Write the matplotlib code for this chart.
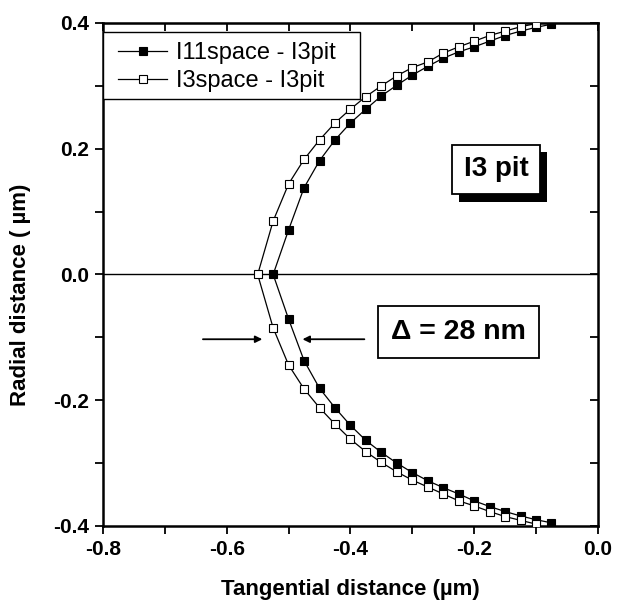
import numpy as np
import matplotlib
matplotlib.use('Agg')
import matplotlib.pyplot as plt
import matplotlib.patches as patches
import matplotlib.patheffects as pe

plt.rcParams['font.family'] = ['Liberation Sans', 'DejaVu Sans']

# I11space - I3pit (filled squares)
x_filled = [-0.525, -0.5, -0.475, -0.45, -0.425, -0.4, -0.375, -0.35, -0.325, -0.3,
            -0.275, -0.25, -0.225, -0.2, -0.175, -0.15, -0.125, -0.1, -0.075]
y_filled_up = [0, 0.071, 0.138, 0.181, 0.214, 0.241, 0.263, 0.284, 0.301, 0.317,
               0.331, 0.344, 0.354, 0.362, 0.371, 0.380, 0.387, 0.393, 0.398]
y_filled_dn = [0, -0.071, -0.137, -0.181, -0.212, -0.240, -0.264, -0.283, -0.300, -0.315,
               -0.328, -0.339, -0.349, -0.360, -0.369, -0.377, -0.384, -0.390, -0.395]

# I3space - I3pit (open squares)
x_open = [-0.55, -0.525, -0.5, -0.475, -0.45, -0.425, -0.4, -0.375, -0.35, -0.325,
          -0.3, -0.275, -0.25, -0.225, -0.2, -0.175, -0.15, -0.125, -0.1]
y_open_up = [0, 0.085, 0.144, 0.183, 0.214, 0.241, 0.263, 0.283, 0.300, 0.316,
             0.329, 0.338, 0.352, 0.362, 0.371, 0.380, 0.387, 0.394, 0.399]
y_open_dn = [0, -0.085, -0.144, -0.182, -0.212, -0.238, -0.262, -0.282, -0.299, -0.314,
             -0.327, -0.338, -0.349, -0.360, -0.368, -0.377, -0.385, -0.391, -0.397]

labels = ['I11space - I3pit', 'I3space - I3pit']
xticks = [-0.8, -0.6, -0.4, -0.2, 0.0]
yticks = [-0.4, -0.2, 0.0, 0.2, 0.4]


def curva(x, y_up, y_dn):
    # de arriba hacia abajo pasando por el vertice
    xx = list(x[::-1]) + list(x[1:])
    yy = list(y_up[::-1]) + list(y_dn[1:])
    return xx, yy


fig = plt.figure(figsize=(6.17, 6.01), dpi=100)
ax = fig.add_axes([0.167, 0.1248, 0.802, 0.837])

ax.axhline(0, color='black', lw=1.0, zorder=1)

xf, yf = curva(x_filled, y_filled_up, y_filled_dn)
xo, yo = curva(x_open, y_open_up, y_open_dn)
l1, = ax.plot(xf, yf, '-s', color='black', lw=0.9, ms=5.2, mfc='black', mec='black',
              mew=0.8, label=labels[0], zorder=3)
l2, = ax.plot(xo, yo, '-s', color='black', lw=0.9, ms=5.2, mfc='white', mec='black',
              mew=0.8, label=labels[1], zorder=3)

ax.set_xlim(-0.8, 0.0)
ax.set_ylim(-0.4, 0.4)
ax.set_xticks(xticks)
ax.set_yticks(yticks)
ax.set_xticks(np.arange(-0.7, 0, 0.2), minor=True)
ax.set_yticks([-0.3, -0.1, 0.1, 0.3], minor=True)
ax.set_xticklabels(['%.1f' % v for v in xticks], fontsize=15, fontweight='bold')
ax.set_yticklabels(['%.1f' % v for v in yticks], fontsize=15, fontweight='bold')
ax.tick_params(which='both', direction='out', length=6, width=1.3, pad=4)

for s in ax.spines.values():
    s.set_linewidth(1.8)

# ticks hacia adentro arriba y a la derecha
sx = ax.secondary_xaxis('top')
sx.set_xticks(xticks)
sx.set_xticks(np.arange(-0.7, 0, 0.2), minor=True)
sx.tick_params(which='both', direction='in', length=6, width=1.3, labeltop=False)
sy = ax.secondary_yaxis('right')
sy.set_yticks(yticks)
sy.set_yticks([-0.3, -0.1, 0.1, 0.3], minor=True)
sy.tick_params(which='both', direction='in', length=6, width=1.3, labelright=False)

ax.set_xlabel('Tangential distance (µm)', fontsize=16, fontweight='bold')
ax.xaxis.set_label_coords(0.5, -0.105)
ax.set_ylabel('Radial distance ( µm)', fontsize=16, fontweight='bold')
ax.yaxis.set_label_coords(-0.145, 0.46)

# caja de la leyenda
ax.add_patch(patches.Rectangle((0, 0.849), 0.519, 0.133, transform=ax.transAxes,
                               facecolor='white', edgecolor='black', lw=1.0, zorder=4))
leg = ax.legend(handles=[l1, l2], loc='upper left', bbox_to_anchor=(0.03, 0.962),
                frameon=False, fontsize=17, handlelength=2.1, handletextpad=0.35,
                labelspacing=0.25, borderpad=0.0, borderaxespad=0.0)
leg.set_zorder(5)

t1 = ax.text(-0.164, 0.167, 'I3 pit', fontsize=20, fontweight='bold', ha='center',
             va='center', zorder=5,
             bbox=dict(boxstyle='square,pad=0.42', facecolor='white', edgecolor='black', lw=1.3))
t1.get_bbox_patch().set_path_effects([
    pe.SimplePatchShadow(offset=(5, -5.5), shadow_rgbFace='black', alpha=1.0), pe.Normal()])

ax.text(-0.225, -0.091, 'Δ = 28 nm', fontsize=20.5, fontweight='bold', ha='center',
        va='center', zorder=5,
        bbox=dict(boxstyle='square,pad=0.45', facecolor='white', edgecolor='black', lw=1.3))

# flechas
ax.annotate('', xy=(-0.538, -0.103), xytext=(-0.643, -0.103),
            arrowprops=dict(arrowstyle='-|>', color='black', lw=1.3, mutation_scale=10))
ax.annotate('', xy=(-0.482, -0.103), xytext=(-0.373, -0.103),
            arrowprops=dict(arrowstyle='-|>', color='black', lw=1.3, mutation_scale=10))

fig.savefig('out.png', dpi=100)
